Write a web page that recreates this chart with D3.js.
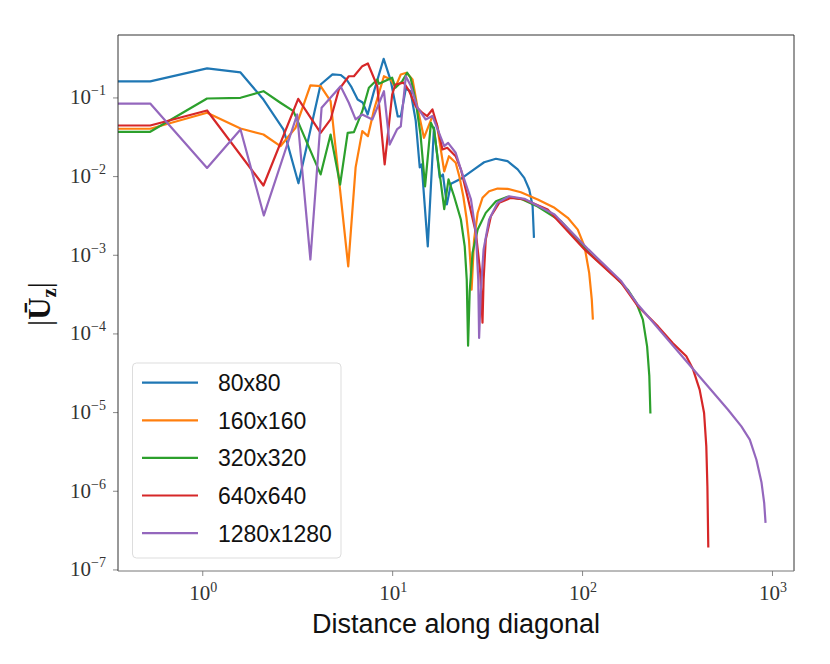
<!DOCTYPE html>
<html>
<head>
<meta charset="utf-8">
<script src="https://cdn.jsdelivr.net/npm/d3@7"></script>
<style>
  html, body { margin: 0; padding: 0; background: #fff; }
  svg text { fill: #222; }
</style>
</head>
<body>
<div id="chart"></div>
<script>
// ── Data (distance along diagonal, |U_z|) ───────────────────────────────────
const seriesNames = ['80x80', '160x160', '320x320', '640x640', '1280x1280'];
const seriesColors = ['#1f77b4', '#ff7f0e', '#2ca02c', '#d62728', '#9467bd'];

const res80 = [
  [0.36, 0.160], [0.532, 0.160], [1.06, 0.234], [1.59, 0.208], [2.10, 0.094],
  [2.68, 0.039], [3.21, 0.0081], [4.20, 0.146], [4.85, 0.196], [5.35, 0.193],
  [5.75, 0.169], [6.11, 0.135], [6.58, 0.094], [6.99, 0.0864], [7.43, 0.0607],
  [7.99, 0.116], [9.02, 0.31], [9.82, 0.165], [10.7, 0.0573], [11.1, 0.0573],
  [11.8, 0.130], [12.5, 0.119], [13.3, 0.051], [13.97, 0.0129], [14.3, 0.0141],
  [15.4, 0.00128], [16.6, 0.0415], [17.8, 0.0096], [18.5, 0.0105], [19.4, 0.00436],
  [20.4, 0.0080], [23.0, 0.00924], [27.0, 0.0122], [30.5, 0.0150], [35.2, 0.0166],
  [40.5, 0.0155], [45.8, 0.0122], [49.6, 0.00951], [52.7, 0.00676], [54.9, 0.00414],
  [55.8, 0.00164],
];

const res160 = [
  [0.36, 0.040], [0.532, 0.040], [1.06, 0.064], [1.59, 0.0403], [2.10, 0.0338],
  [2.58, 0.0240], [3.10, 0.0412], [3.71, 0.142], [4.20, 0.139], [4.74, 0.0897],
  [5.87, 0.00071], [6.42, 0.0129], [6.96, 0.0373], [7.45, 0.0322], [8.03, 0.0703],
  [9.05, 0.186], [9.82, 0.169], [10.4, 0.135], [11.1, 0.196], [11.9, 0.206],
  [12.8, 0.169], [13.6, 0.074], [14.7, 0.0307], [16.3, 0.058], [17.2, 0.0453],
  [18.8, 0.0115], [19.9, 0.0179], [21.6, 0.0148], [22.6, 0.0098], [23.7, 0.0055],
  [24.6, 0.0030], [25.4, 0.00150], [25.9, 0.00070], [26.2, 0.00036], [27.0, 0.00156],
  [28.2, 0.00342], [29.9, 0.00530], [32.4, 0.00643], [35.9, 0.00695], [40.5, 0.00689],
  [47.6, 0.00624], [58.4, 0.00505], [71.6, 0.00395], [84.1, 0.00295], [94.9, 0.00209],
  [103, 0.00128], [109, 0.000589], [112.5, 0.000269], [114, 0.000150],
];

const res320 = [
  [0.36, 0.0366], [0.532, 0.0366], [1.06, 0.097], [1.59, 0.099], [2.10, 0.120],
  [2.58, 0.0856], [3.02, 0.0669], [4.20, 0.0105], [4.74, 0.0338], [5.32, 0.0078],
  [5.83, 0.0355], [6.29, 0.0362], [6.96, 0.0669], [7.54, 0.133], [8.35, 0.169],
  [8.52, 0.149], [10.0, 0.178], [10.4, 0.133], [11.3, 0.161], [12.0, 0.206],
  [12.5, 0.178], [13.3, 0.0897], [14.1, 0.0338], [14.9, 0.0074], [16.0, 0.0476],
  [16.6, 0.0392], [18.8, 0.0038], [19.8, 0.0091], [21.2, 0.0055], [23.0, 0.00281],
  [24.1, 0.00128], [24.7, 0.000483], [25.1, 0.000070], [25.6, 0.000343], [26.5, 0.00106],
  [28.2, 0.00209], [31.1, 0.00341], [35.2, 0.0048], [40.5, 0.00546], [47.6, 0.00514],
  [58.4, 0.0041], [77.5, 0.00267], [111, 0.00101], [151, 0.00051], [174, 0.00036],
  [193, 0.000244], [209, 0.000150], [220, 0.0000685], [226, 0.0000286], [229, 0.0000096],
];

const res640 = [
  [0.36, 0.044], [0.532, 0.044], [1.06, 0.0683], [2.10, 0.0076], [3.20, 0.096],
  [4.20, 0.0355], [4.74, 0.0525], [5.24, 0.126], [5.91, 0.186], [6.29, 0.186],
  [6.96, 0.25], [7.45, 0.27], [8.35, 0.139], [9.13, 0.0141], [10.0, 0.109],
  [10.4, 0.146], [11.5, 0.154], [12.3, 0.120], [13.3, 0.0775], [14.4, 0.0638],
  [15.3, 0.058], [16.3, 0.0703], [17.2, 0.0453], [18.4, 0.0218], [19.5, 0.0229],
  [21.6, 0.0179], [23.0, 0.0122], [24.9, 0.00555], [27.6, 0.0019], [29.1, 0.000589],
  [29.9, 0.000137], [30.3, 0.000483], [31.1, 0.00156], [33.1, 0.00309], [36.6, 0.00457],
  [42.2, 0.0053], [49.7, 0.00505], [65.9, 0.00377], [103, 0.00117], [161, 0.00044],
  [197, 0.000221], [251, 0.000123], [300, 0.0000757], [354, 0.0000512], [384, 0.000035],
  [416, 0.0000193], [439, 0.00000975], [451, 0.00000366], [457, 0.00000114],
  [462, 0.00000019],
];

const res1280 = [
  [0.36, 0.0836], [0.532, 0.0836], [1.06, 0.0127], [1.59, 0.0392], [2.11, 0.00316],
  [3.16, 0.0607], [3.71, 0.00087], [4.25, 0.074], [5.35, 0.139], [5.91, 0.0857],
  [6.42, 0.0525], [6.96, 0.0607], [7.87, 0.0525], [9.05, 0.120], [9.7, 0.0252],
  [10.6, 0.0392], [11.1, 0.0428], [11.8, 0.186], [12.5, 0.142], [13.6, 0.074],
  [15.0, 0.0525], [16.3, 0.058], [18.8, 0.024], [19.7, 0.0265], [21.6, 0.0198],
  [23.0, 0.0122], [26.0, 0.00505], [27.6, 0.0019], [28.4, 0.000483], [28.7, 0.0000877],
  [29.3, 0.000343], [30.3, 0.00117], [32.4, 0.00281], [35.9, 0.00458], [41.3, 0.00555],
  [49.7, 0.00514], [71.6, 0.00326], [108, 0.00117], [161, 0.00046], [197, 0.000231],
  [392, 0.0000333], [587, 0.0000107], [690, 0.00000658], [764, 0.00000446],
  [828, 0.00000248], [881, 0.00000127], [910, 0.000000697], [925, 0.00000039],
];

const allSeries = [res80, res160, res320, res640, res1280];
const xTickValues = [1, 10, 100, 1000];
const xTickExps = ['0', '1', '2', '3'];
const yTickValues = [1e-7, 1e-6, 1e-5, 1e-4, 1e-3, 1e-2, 1e-1];
const yTickExps = ['\u22127', '\u22126', '\u22125', '\u22124', '\u22123', '\u22122', '\u22121'];

// ── Layout ──────────────────────────────────────────────────────────────────
const W = 830, H = 664;
const L = 118, R = 794, T = 35, B = 571;

const svg = d3.select('#chart').append('svg')
  .attr('width', W).attr('height', H)
  .attr('viewBox', `0 0 ${W} ${H}`);

const x = d3.scaleLog().domain([0.36, 1306]).range([L, R]);
const y = d3.scaleLog().domain([9.55e-8, 0.622]).range([B, T]);

svg.append('clipPath').attr('id', 'plot-clip')
  .append('rect').attr('x', L).attr('y', T).attr('width', R - L).attr('height', B - T);

// ── Lines ───────────────────────────────────────────────────────────────────
const lineGen = d3.line().x(d => x(d[0])).y(d => y(d[1]));
const linesG = svg.append('g').attr('clip-path', 'url(#plot-clip)');
allSeries.forEach((data, i) => {
  linesG.append('path')
    .datum(data)
    .attr('fill', 'none')
    .attr('stroke', seriesColors[i])
    .attr('stroke-width', 2.2)
    .attr('stroke-linejoin', 'round')
    .attr('d', lineGen);
});

// ── Axes ────────────────────────────────────────────────────────────────────
const xAxis = svg.append('g')
  .attr('transform', `translate(0,${B})`)
  .call(d3.axisBottom(x).tickValues(xTickValues).tickFormat('').tickSize(5).tickSizeOuter(0));
const yAxis = svg.append('g')
  .attr('transform', `translate(${L},0)`)
  .call(d3.axisLeft(y).tickValues(yTickValues).tickFormat('').tickSize(5).tickSizeOuter(0));
[xAxis, yAxis].forEach(g => {
  g.select('.domain').remove();
  g.selectAll('.tick line').attr('stroke', '#888').attr('stroke-width', 1);
});

// frame
svg.append('line').attr('x1', L).attr('x2', R).attr('y1', T).attr('y2', T).attr('stroke', '#333');
svg.append('line').attr('x1', R).attr('x2', R).attr('y1', T).attr('y2', B).attr('stroke', '#333');
svg.append('line').attr('x1', L).attr('x2', L).attr('y1', T).attr('y2', B).attr('stroke', '#333');
svg.append('line').attr('x1', L).attr('x2', R).attr('y1', B).attr('y2', B).attr('stroke', '#777');

const serif = '"Liberation Serif", "DejaVu Serif", serif';

xTickValues.forEach((v, i) => {
  const t = svg.append('text')
    .attr('x', x(v) + 1).attr('y', 600)
    .attr('text-anchor', 'middle')
    .style('font-family', serif).style('font-size', '21px').style('fill', '#333');
  t.append('tspan').text('10');
  t.append('tspan').attr('dy', -8).style('font-size', '14px').text(xTickExps[i]);
});

yTickValues.forEach((v, i) => {
  const t = svg.append('text')
    .attr('x', 106).attr('y', y(v) + 7)
    .attr('text-anchor', 'end')
    .style('font-family', serif).style('font-size', '21px').style('fill', '#333');
  t.append('tspan').text('10');
  t.append('tspan').attr('dy', -9).style('font-size', '14px').text(yTickExps[i]);
});

// axis titles
svg.append('text')
  .attr('x', (L + R) / 2).attr('y', 633)
  .attr('text-anchor', 'middle')
  .style('font-family', '"Liberation Sans", sans-serif').style('font-size', '27px').style('fill', '#111')
  .text('Distance along diagonal');

const yl = svg.append('text')
  .attr('transform', 'translate(50,304) rotate(-90)')
  .attr('text-anchor', 'middle')
  .style('font-family', serif).style('font-size', '31px').style('fill', '#111');
yl.append('tspan').text('|');
yl.append('tspan').style('font-weight', 'bold').text('\u016A');
yl.append('tspan').attr('dy', 6).style('font-weight', 'bold').style('font-size', '21px').text('z');
yl.append('tspan').attr('dy', -6).text('|');

// ── Legend ──────────────────────────────────────────────────────────────────
const lg = svg.append('g');
lg.append('rect')
  .attr('x', 132.5).attr('y', 363).attr('width', 208.5).attr('height', 195)
  .attr('rx', 4).attr('fill', '#fff').attr('fill-opacity', 0.85)
  .attr('stroke', '#ddd').attr('stroke-width', 1);
seriesNames.forEach((name, i) => {
  const yy = 382.7 + i * 37.6;
  lg.append('line')
    .attr('x1', 142).attr('x2', 198).attr('y1', yy).attr('y2', yy)
    .attr('stroke', seriesColors[i]).attr('stroke-width', 2.2);
  lg.append('text')
    .attr('x', 218).attr('y', yy + 8.5)
    .style('font-family', '"Liberation Sans", sans-serif').style('font-size', '23px').style('fill', '#111')
    .text(name);
});
</script>
</body>
</html>
